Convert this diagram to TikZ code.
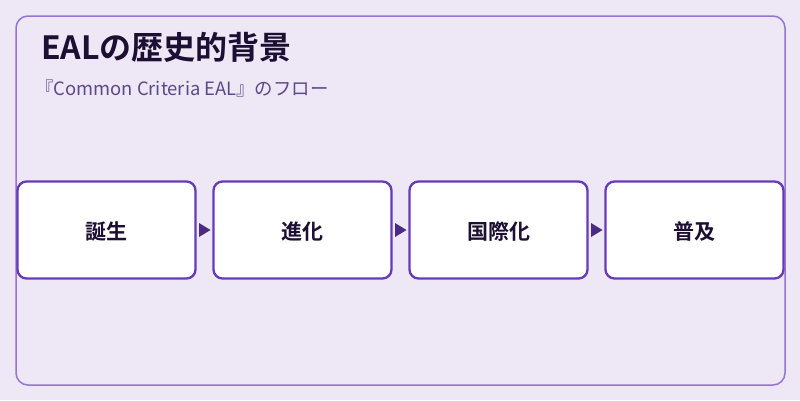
\documentclass[tikz,border=0pt]{standalone}
\usepackage{fontspec}
\newfontfamily\cjk{Noto Sans CJK JP}
\newfontfamily\cjkb{Noto Sans CJK JP Bold}
\definecolor{bgc}{HTML}{EDE7F6}
\definecolor{framec}{HTML}{9575CD}
\definecolor{boxc}{HTML}{673AB7}
\definecolor{arrc}{HTML}{4A2A85}
\definecolor{titlec}{HTML}{1C0F33}
\definecolor{subc}{HTML}{5A4A85}
\newcommand{\lbl}[1]{\raisebox{-9pt}[0pt][0pt]{#1}}
\begin{document}
\begin{tikzpicture}[x=1pt,y=-1pt,
  stepbox/.style={draw=boxc,line width=2.3pt,fill=white,rounded corners=9pt,minimum width=178pt,minimum height=97pt,inner sep=0pt,font=\cjkb\fontsize{21}{25}\selectfont,text=titlec},
  flow/.style={draw=none,fill=arrc}]
\useasboundingbox (0,0) rectangle (800,400);
\fill[bgc] (0,0) rectangle (800,400);
\draw[framec,line width=1.5pt,rounded corners=12pt] (16,16) rectangle (785,385);
\node[anchor=base west,inner sep=0pt,font=\cjkb\fontsize{32}{38}\selectfont,text=titlec] (title) at (41,59) {EALの歴史的背景};
\node[anchor=base west,inner sep=0pt,font=\cjk\fontsize{18.4}{22}\selectfont,text=subc] (sub) at (35,95) {『Common Criteria EAL』のフロー};
\node[stepbox] (b1) at (106.5,230) {\lbl{誕生}};
\node[stepbox] (b2) at (302.5,230) {\lbl{進化}};
\node[stepbox] (b3) at (498.5,230) {\lbl{国際化}};
\node[stepbox] (b4) at (694.5,230) {\lbl{普及}};
\foreach \a/\b in {b1/b2,b2/b3,b3/b4}{
  \path (\a.east) -- (\b.west) coordinate[pos=0.5] (m);
  \fill[arrc] ([xshift=-5.5pt,yshift=-7pt]m) -- ([xshift=6pt]m) -- ([xshift=-5.5pt,yshift=7pt]m) -- cycle;
}
\end{tikzpicture}
\end{document}
